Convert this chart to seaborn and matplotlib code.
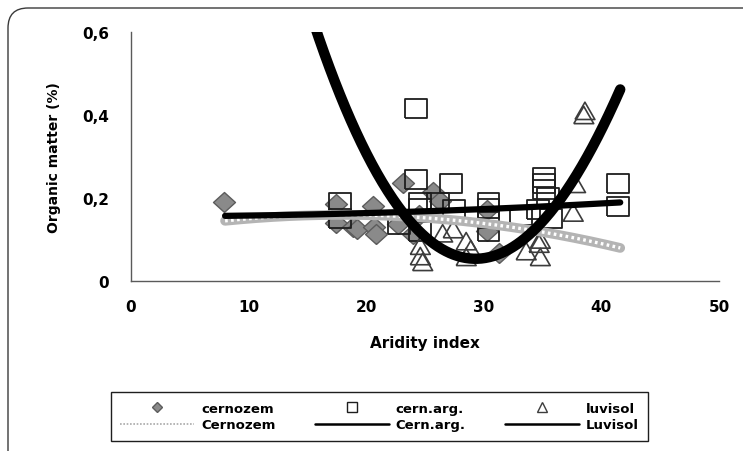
import numpy as np
import pandas as pd
import matplotlib
matplotlib.use("Agg")
import matplotlib.pyplot as plt
import seaborn as sns
from matplotlib.patches import FancyBboxPatch
from matplotlib.lines import Line2D
from matplotlib.ticker import FuncFormatter

# Cernozem samples
cernozem_x = [7.9, 17.4, 17.4, 18.9, 19.2, 20.6, 20.7, 20.8, 22.7, 23.1, 24.0,
              24.5, 25.7, 26.3, 30.3, 30.3, 31.3]
cernozem_y = [0.19, 0.185, 0.14, 0.13, 0.125, 0.18, 0.13, 0.113, 0.137, 0.235, 0.113,
              0.16, 0.215, 0.193, 0.17, 0.12, 0.068]

# Cernozem argic samples
cernarg_x = [17.8, 17.8, 22.8, 24.2, 24.2, 24.6, 24.6, 24.6, 26.1, 27.2, 27.5,
             30.4, 30.4, 30.4, 30.4, 33.2, 34.6, 35.1, 35.1, 35.1, 35.5, 35.7,
             41.4, 41.4]
cernarg_y = [0.19, 0.15, 0.137, 0.415, 0.245, 0.19, 0.175, 0.12, 0.19, 0.235, 0.173,
             0.19, 0.175, 0.15, 0.12, 0.157, 0.173, 0.25, 0.235, 0.22, 0.20, 0.15,
             0.234, 0.18]

# Luvisol samples
luvisol_x = [24.6, 24.6, 24.8, 26.5, 27.4, 28.5, 28.5, 28.9, 33.6, 34.7, 34.8,
             34.8, 37.6, 37.8, 38.5, 38.6]
luvisol_y = [0.085, 0.06, 0.046, 0.115, 0.125, 0.096, 0.058, 0.077, 0.072, 0.09, 0.10,
             0.058, 0.165, 0.234, 0.40, 0.41]

# Polynomial trend lines (coefficients in increasing power)
cernozem_trend = [0.113, 0.005143, -0.0001429]          # in x
cernarg_trend = [0.1556, 1.906e-5, 1.903e-5]            # in x
luvisol_trend = [0.055, 0.0040, 0.002815, -1.193e-5]    # in (x - 30)
luvisol_center = 30.0
trend_range = (8.0, 41.6)

x_ticks = [0, 10, 20, 30, 40, 50]
y_ticks = [0, 0.2, 0.4, 0.6]

sns.set_theme(style="white")
plt.rcParams['font.family'] = ['DejaVu Sans']
plt.rcParams['font.weight'] = 'bold'
plt.rcParams['axes.labelweight'] = 'bold'
for key in ['text.color', 'axes.labelcolor', 'xtick.labelcolor', 'ytick.labelcolor']:
    plt.rcParams[key] = 'black'

W, H = 743, 452
fig = plt.figure(figsize=(W / 100, H / 100), dpi=100)
fig.patch.set_facecolor('white')

# rounded outer frame of the chart area (only the top-left corner is on canvas)
frame = FancyBboxPatch((8 / W, 1 - 520 / H), 800 / W, 511 / H,
                       boxstyle="round,pad=0,rounding_size=0.027",
                       transform=fig.transFigure, fill=False,
                       edgecolor='#3a3a3a', linewidth=1.0,
                       mutation_aspect=W / H)
fig.patches.append(frame)

ax = fig.add_axes([131 / W, 1 - 282 / H, (719 - 131) / W, (282 - 33) / H])
ax.set_facecolor('none')

# slightly wide marker outlines
diamond = [(0, -1), (1.1, 0), (0, 1), (-1.1, 0), (0, -1)]
rect = [(-1.15, -1), (1.15, -1), (1.15, 1), (-1.15, 1), (-1.15, -1)]
tri = [(-1.15, -1), (1.15, -1), (0, 1), (-1.15, -1)]

# scatter series
sns.scatterplot(x=cernozem_x, y=cernozem_y, ax=ax, marker=diamond, s=250,
                color='#8a8a8a', edgecolor='#5c5c5c', linewidth=1.0, zorder=3)
sns.scatterplot(x=cernarg_x, y=cernarg_y, ax=ax, marker=rect, s=250,
                facecolor='none', edgecolor='#1e1e1e', linewidth=1.3, zorder=4)
sns.scatterplot(x=luvisol_x, y=luvisol_y, ax=ax, marker=tri, s=205,
                facecolor='none', edgecolor='#3c3c3c', linewidth=1.2, zorder=5)

# trend lines
xs = np.linspace(trend_range[0], trend_range[1], 300)
trend_df = pd.DataFrame({
    'x': xs,
    'cer': np.polynomial.polynomial.polyval(xs, cernozem_trend),
    'arg': np.polynomial.polynomial.polyval(xs, cernarg_trend),
    'luv': np.polynomial.polynomial.polyval(xs - luvisol_center, luvisol_trend),
})

sns.lineplot(data=trend_df, x='x', y='cer', ax=ax, color='#b4b4b4', lw=7,
             estimator=None, sort=False, zorder=6)
sns.lineplot(data=trend_df, x='x', y='cer', ax=ax, color='white', lw=2.4,
             estimator=None, sort=False, zorder=7, dashes=False,
             linestyle=(0, (0.8, 1.0)))
sns.lineplot(data=trend_df, x='x', y='arg', ax=ax, color='black', lw=4.5,
             estimator=None, sort=False, zorder=8)
sns.lineplot(data=trend_df, x='x', y='luv', ax=ax, color='black', lw=7.5,
             estimator=None, sort=False, zorder=9)

ax.set_xlim(0, 50)
ax.set_ylim(0, 0.6)
ax.set_xticks(x_ticks)
ax.set_yticks(y_ticks)
ax.yaxis.set_major_formatter(FuncFormatter(
    lambda v, p: '0' if abs(v) < 1e-9 else f'{v:.1f}'.replace('.', ',')))
for side in ['top', 'right']:
    ax.spines[side].set_visible(False)
for side in ['left', 'bottom']:
    ax.spines[side].set_color('#5a5a5a')
    ax.spines[side].set_linewidth(1.0)
ax.tick_params(axis='both', which='major', direction='out', length=5, width=1,
               color='#5a5a5a', labelsize=11, labelcolor='black')
ax.tick_params(axis='y', pad=11)
ax.tick_params(axis='x', pad=8)
for lab in ax.get_xticklabels() + ax.get_yticklabels():
    lab.set_fontweight('bold')
ax.set_xlabel('Aridity index', fontsize=11, fontweight='bold', labelpad=15,
              color='black')
ax.set_ylabel('Organic matter (%)', fontsize=10, fontweight='bold', labelpad=15,
              color='black')
ax.grid(False)

# legend: markers in the first row, trend lines in the second
h_cer = Line2D([], [], ls='none', marker='D', ms=5, mfc='#8a8a8a', mec='#5c5c5c')
h_arg = Line2D([], [], ls='none', marker='s', ms=7, mfc='none', mec='#1e1e1e')
h_luv = Line2D([], [], ls='none', marker='^', ms=7, mfc='none', mec='#3c3c3c')
l_cer = Line2D([], [], color='#a9a9a9', lw=1.2, ls=(0, (1, 1)))
l_arg = Line2D([], [], color='black', lw=1.8)
l_luv = Line2D([], [], color='black', lw=1.8)
handles = [h_cer, l_cer, h_arg, l_arg, h_luv, l_luv]
labels = ['cernozem', 'Cernozem', 'cern.arg.', 'Cern.arg.', 'luvisol', 'Luvisol']
leg = fig.legend(handles, labels, ncol=3, loc='center',
                 bbox_to_anchor=(104 / W, 1 - 443 / H, 551 / W, 51 / H),
                 mode='expand', fancybox=False, framealpha=1, edgecolor='#1e1e1e',
                 prop={'family': ['DejaVu Sans'], 'weight': 'bold', 'size': 9.5},
                 handlelength=5.6, handletextpad=0.55, columnspacing=1.0,
                 labelspacing=0.3, borderpad=0.7)
leg.get_frame().set_linewidth(1.0)
for t in leg.get_texts():
    t.set_color('black')

fig.savefig('out.png', dpi=100)
